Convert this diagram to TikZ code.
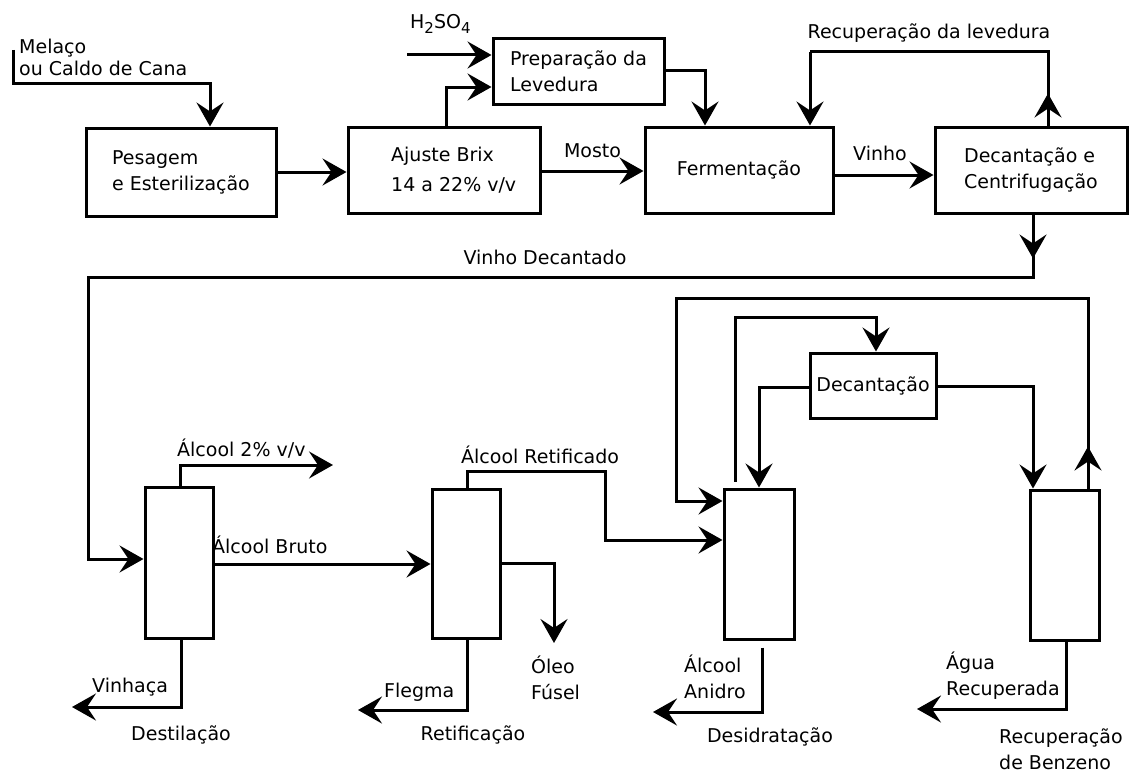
\documentclass[tikz,border=0pt]{standalone}
\usepackage{fontspec}
\setmainfont{DejaVu Sans}
\usetikzlibrary{arrows.meta}
\newcommand\lblfont{\fontsize{19}{26}\selectfont}
\newcommand\sbs[1]{\raisebox{-5pt}{\fontsize{15}{15}\selectfont #1}}
\tikzset{
  box/.style={draw, line width=3pt, inner sep=0pt, align=left, font=\lblfont},
  lbl/.style={inner sep=0pt, align=left, font=\lblfont},
  wire/.style={line width=3pt},
  flow/.style={line width=3pt, -{Stealth[length=24pt,width=27pt,inset=9pt]}},
}
\begin{document}
\begin{tikzpicture}[x=1pt,y=-1pt]
\useasboundingbox (0,0) rectangle (1145,776);

% ---- boxes ----
\node[box, minimum width=190pt, minimum height=88pt] (pes) at (181,172) {Pesagem\\e Esterilização};
\node[box, minimum width=192pt, minimum height=86pt] (aju) at (444,170) {};
\node[lbl, anchor=west] (ajut) at (391,170) {Ajuste Brix\\[4pt]14 a 22\% v/v};
\node[box, minimum width=171pt, minimum height=65pt] (prep) at (578.5,71.5) {Preparação da\\Levedura};
\node[box, minimum width=188pt, minimum height=86pt] (ferm) at (739,170) {Fermentação};
\node[box, minimum width=192pt, minimum height=86pt] (dec) at (1031,170) {Decantação e\\Centrifugação};
\node[box, minimum width=68pt, minimum height=151pt] (dest) at (179,562.5) {};
\node[box, minimum width=68pt, minimum height=149pt] (ret) at (466,563.5) {};
\node[box, minimum width=70pt, minimum height=150pt] (des) at (759,564) {};
\node[box, minimum width=126pt, minimum height=65pt] (dcn) at (873,385.5) {Decantação};
\node[box, minimum width=69pt, minimum height=150pt] (benz) at (1065,565) {};

% ---- coordinates ----
\coordinate (m0) at (13,50);
\coordinate (m1) at (210,83);
\coordinate (h0) at (407,55);
\coordinate (a1) at (446,87);
\coordinate (p1) at (705,70);
\coordinate (mo) at (600,171);
\coordinate (vi) at (880,175);
\coordinate (r1) at (1048,52);
\coordinate (r2) at (810,52);
\coordinate (v1) at (1033,277);
\coordinate (v2) at (88,277);
\coordinate (v3) at (88,559);
\coordinate (d1) at (180,465);
\coordinate (d2) at (333,465);
\coordinate (b1) at (300,564);
\coordinate (vh) at (181,707);
\coordinate (vh2) at (72,707);
\coordinate (rt1) at (467,471);
\coordinate (rt2) at (605,540);
\coordinate (o1) at (554,563);
\coordinate (o2) at (554,643);
\coordinate (f1) at (467,710);
\coordinate (f2) at (358,710);
\coordinate (ol1) at (1088,298);
\coordinate (ol2) at (676,298);
\coordinate (ol3) at (676,501);
\coordinate (il1) at (735,317);
\coordinate (il2) at (876,317);
\coordinate (dl) at (759,387);
\coordinate (dr) at (1033,386);
\coordinate (an1) at (762,712);
\coordinate (an2) at (653,712);
\coordinate (w1) at (1066,709);
\coordinate (w2) at (917,709);

% ---- top row ----
\draw[flow] (m0) |- (m1) -- (m1 |- pes.north);
\node[lbl, anchor=west, font=\fontsize{19}{22}\selectfont] (tmel) at (19,57) {Melaço\\ou Caldo de Cana};
\draw[flow] (pes.east) -- (pes.east -| aju.west);
\draw[flow] (h0) -- (h0 -| prep.west);
\node[lbl, anchor=west] (th2) at (410,24) {H\sbs{2}SO\sbs{4}};
\draw[flow] (aju.north -| a1) |- (prep.west |- a1);
\draw[flow] (prep.east |- p1) -| (ferm.north -| p1);
\draw[flow] (aju.east |- mo) -- (ferm.west |- mo) node[lbl, midway, above=12pt] (tmosto) {Mosto};
\draw[flow] (ferm.east |- vi) -- (dec.west |- vi) node[lbl, midway, above=13pt, xshift=-4pt] (tvinho) {Vinho};
\draw[wire] (dec.north -| r1) -- (r1) -- (r2) node[lbl, midway, above=8pt] (trec) {Recuperação da levedura};
\draw[flow] (r2) -- (r2 |- ferm.north);
\draw[flow] (dec.north -| r1) -- ++(0,-32);

% ---- vinho decantado ----
\draw[flow] (dec.south -| v1) -- (v1) -- (v2) -- (v3) -- (v3 -| dest.west);
\draw[flow] (dec.south -| v1) -- ++(0,44);
\node[lbl] (tvd) at (545,257) {Vinho Decantado};

% ---- destilacao ----
\draw[flow] (dest.north -| d1) |- (d2);
\node[lbl, anchor=west] (t2) at (177,449) {Álcool 2\% v/v};
\draw[flow] (dest.east |- b1) -- (ret.west |- b1);
\node[lbl, anchor=west] (tbruto) at (212,545) {Álcool Bruto};
\draw[flow] (dest.south -| vh) |- (vh2);
\node[lbl, anchor=west] (tvinh) at (92,687) {Vinhaça};
\node[lbl] (tdest) at (181,735) {Destilação};

% ---- retificacao ----
\draw[flow] (ret.north -| rt1) -- (rt1) -| (rt2) -- (rt2 -| des.west);
\node[lbl, anchor=west] (tret) at (461,455) {Álcool Retificado};
\draw[flow] (ret.east |- o1) -| (o2);
\node[lbl, anchor=west] (toleo) at (531,678) {Óleo\\Fúsel};
\draw[flow] (ret.south -| f1) |- (f2);
\node[lbl, anchor=west] (tfleg) at (384,692) {Flegma};
\node[lbl] (tretif) at (473,735) {Retificação};

% ---- desidratacao loops ----
\draw[flow] (benz.north -| ol1) -- (ol1) -- (ol2) -- (ol3) -- (ol3 -| des.west);
\draw[flow] (benz.north -| ol1) -- ++(0,-42);
\draw[flow, shorten <=6pt] (des.north -| il1) -- (il1) -- (il2) -- (il2 |- dcn.north);
\draw[flow] (dcn.west |- dl) -| (des.north -| dl);
\draw[flow] (dcn.east |- dr) -| (benz.north -| dr);
\draw[flow, shorten <=7pt] (des.south -| an1) |- (an2);
\node[lbl, anchor=west] (tanid) at (684,676.5) {Álcool\\Anidro};
\node[lbl] (tdesid) at (770,737) {Desidratação};

% ---- benzeno ----
\draw[flow] (benz.south -| w1) |- (w2);
\node[lbl, anchor=west] (tagua) at (946,676) {Água\\Recuperada};
\node[lbl, anchor=west] (tbenz) at (999,749.5) {Recuperação\\de Benzeno};
\end{tikzpicture}
\end{document}
